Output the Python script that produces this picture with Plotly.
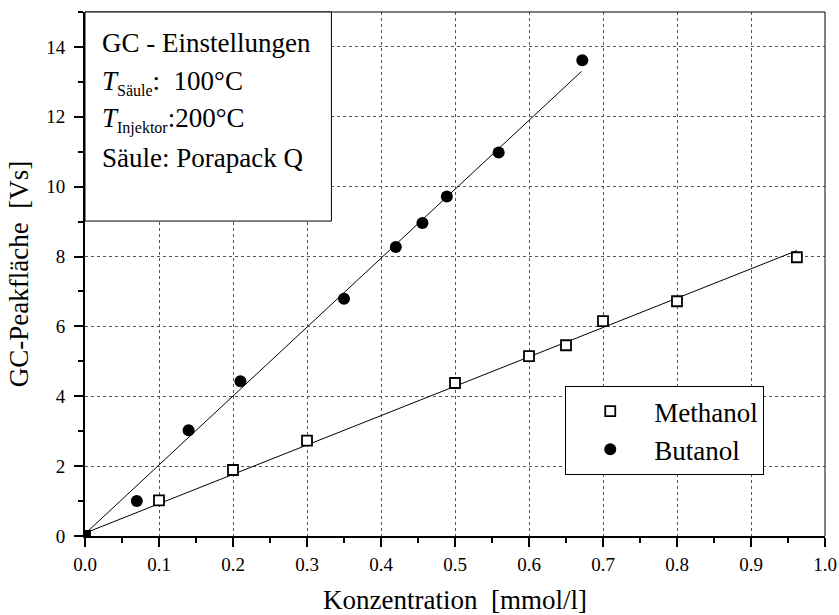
import plotly.graph_objects as go

# ---- data ----
methanol_x = [0.0, 0.1, 0.2, 0.3, 0.5, 0.6, 0.65, 0.7, 0.8, 0.962]
methanol_y = [0.0, 1.02, 1.89, 2.73, 4.38, 5.15, 5.46, 6.15, 6.72, 7.98]
butanol_x = [0.0, 0.07, 0.14, 0.21, 0.35, 0.42, 0.456, 0.489, 0.559, 0.672]
butanol_y = [0.0, 1.0, 3.03, 4.43, 6.79, 8.27, 8.96, 9.72, 10.98, 13.62]
methanol_fit_x = [0.002, 0.962]
methanol_fit_y = [0.1, 8.17]
butanol_fit_x = [0.002, 0.671]
butanol_fit_y = [0.1, 13.3]

x_ticks = [0.0, 0.1, 0.2, 0.3, 0.4, 0.5, 0.6, 0.7, 0.8, 0.9, 1.0]
x_tick_labels = ["0.0", "0.1", "0.2", "0.3", "0.4", "0.5", "0.6", "0.7", "0.8", "0.9", "1.0"]
y_ticks = [0, 2, 4, 6, 8, 10, 12, 14]

FONT = "Liberation Serif"

fig = go.Figure()
fig.add_trace(go.Scatter(x=methanol_fit_x, y=methanol_fit_y, mode="lines",
                         line=dict(color="black", width=1), showlegend=False, hoverinfo="skip"))
fig.add_trace(go.Scatter(x=butanol_fit_x, y=butanol_fit_y, mode="lines",
                         line=dict(color="black", width=1), showlegend=False, hoverinfo="skip"))
fig.add_trace(go.Scatter(x=methanol_x, y=methanol_y, mode="markers", name="Methanol",
                         marker=dict(symbol="square", size=10, color="white",
                                     line=dict(color="black", width=1.8))))
fig.add_trace(go.Scatter(x=butanol_x, y=butanol_y, mode="markers", name="Butanol",
                         marker=dict(symbol="circle", size=12, color="black",
                                     line=dict(color="black", width=0))))

axis_common = dict(
    showline=True, linecolor="black", linewidth=2, mirror=False,
    ticks="outside", ticklen=9, tickwidth=2, tickcolor="black",
    showgrid=True, gridcolor="#555555", gridwidth=1, griddash="dot",
    zeroline=False, automargin=False,
    tickfont=dict(family=FONT, size=19, color="black"),
)

fig.update_xaxes(**axis_common, range=[0, 1], tickvals=x_ticks, ticktext=x_tick_labels,
                 ticklabelstandoff=1,
                 minor=dict(dtick=0.05, tick0=0, ticklen=5, tickwidth=1.5, tickcolor="black",
                            ticks="outside", showgrid=False),
                 title=dict(text="Konzentration  [mmol/l]", font=dict(family=FONT, size=27, color="black"),
                            standoff=16))
fig.update_yaxes(**axis_common, range=[0, 15], tickvals=y_ticks,
                 ticklabelstandoff=5,
                 minor=dict(dtick=1, tick0=0, ticklen=5, tickwidth=1.5, tickcolor="black",
                            ticks="outside", showgrid=False),
                 title=dict(text="GC-Peakfläche  [Vs]", font=dict(family=FONT, size=27, color="black"),
                            standoff=10))

shapes = [
    dict(type="line", xref="paper", yref="paper", x0=0, x1=1, y0=1, y1=1,
         line=dict(color="black", width=1)),
    dict(type="line", xref="paper", yref="paper", x0=1, x1=1, y0=0, y1=1,
         line=dict(color="black", width=1)),
    dict(type="rect", xref="paper", yref="paper", x0=0, x1=0.333, y0=0.601, y1=1,
         line=dict(color="black", width=1), fillcolor="white", layer="above"),
]

box_lines = [
    ("GC - Einstellungen", 0.941),
    ("<i>T</i><sub><span style='font-size:16px'>Säule</span></sub>:  100°C", 0.866),
    ("<i>T</i><sub><span style='font-size:16px'>Injektor</span></sub>:200°C", 0.793),
    ("Säule: Porapack Q", 0.722),
]
annotations = []
for txt, yy in box_lines:
    annotations.append(dict(text=txt, xref="paper", yref="paper", x=0.0203, y=yy,
                            xanchor="left", yanchor="middle", showarrow=False,
                            font=dict(family=FONT, size=27, color="black")))

fig.update_layout(
    width=839, height=615,
    margin=dict(l=85, r=14, t=12, b=79),
    paper_bgcolor="white", plot_bgcolor="white",
    font=dict(family=FONT, size=19, color="black"),
    shapes=shapes, annotations=annotations,
    legend=dict(x=0.649, y=0.286, xanchor="left", yanchor="top",
                bordercolor="black", borderwidth=1, bgcolor="white",
                font=dict(family=FONT, size=27, color="black"),
                itemwidth=78),
)

fig.write_html("out.html")
